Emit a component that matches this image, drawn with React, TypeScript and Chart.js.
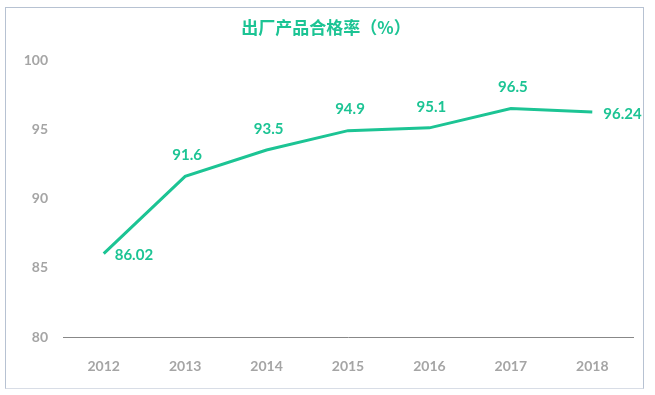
import React, { useEffect, useRef } from "react";
import { Chart, registerables } from "chart.js";

Chart.register(...registerables);

const title = "出厂产品合格率（%）";
const categories = ["2012", "2013", "2014", "2015", "2016", "2017", "2018"];
const values = [86.02, 91.6, 93.5, 94.9, 95.1, 96.5, 96.24];
const valueLabels = ["86.02", "91.6", "93.5", "94.9", "95.1", "96.5", "96.24"];
const labelPlacement = ["right", "top", "top", "top", "top", "top", "right"];

const GREEN = "#1cc494";
const FONT = "Lato, 'Open Sans', sans-serif";

export default function App() {
  const ref = useRef<HTMLCanvasElement | null>(null);

  useEffect(() => {
    if (!ref.current) return;
    const labelsPlugin = {
      id: "valueLabels",
      afterDatasetsDraw(chart: any) {
        const ctx = chart.ctx;
        const meta = chart.getDatasetMeta(0);
        ctx.save();
        ctx.fillStyle = GREEN;
        ctx.font = `bold 15px ${FONT}`;
        ctx.textBaseline = "middle";
        meta.data.forEach((pt: any, i: number) => {
          if (labelPlacement[i] === "right") {
            ctx.textAlign = "left";
            ctx.fillText(valueLabels[i], pt.x + 11, pt.y + 2);
          } else {
            ctx.textAlign = "center";
            ctx.fillText(valueLabels[i], pt.x + 2, pt.y - 21);
          }
        });
        ctx.restore();
      },
    };
    const titlePlugin = {
      id: "customTitle",
      afterDraw(chart: any) {
        const ctx = chart.ctx;
        ctx.save();
        ctx.fillStyle = GREEN;
        ctx.font = `bold 17px 'Noto Sans CJK SC', ${FONT}`;
        ctx.textAlign = "center";
        ctx.textBaseline = "middle";
        ctx.fillText(title, 326, 28);
        ctx.restore();
      },
    };
    const chart = new Chart(ref.current, {
      type: "line",
      data: {
        labels: categories,
        datasets: [
          {
            data: values,
            borderColor: GREEN,
            borderWidth: 3,
            pointRadius: 0,
            tension: 0,
            fill: false,
          },
        ],
      },
      options: {
        animation: false,
        responsive: false,
        maintainAspectRatio: false,
        layout: { padding: { left: 0, right: 22, top: 60, bottom: 0 } },
        plugins: {
          legend: { display: false },
          title: { display: false },
          tooltip: { enabled: false },
        },
        scales: {
          x: {
            offset: true,
            grid: { display: false, drawTicks: false },
            border: { display: true, color: "#888888", width: 1 },
            ticks: {
              color: "#a5a5a5",
              font: { family: FONT, size: 14, weight: "bold" },
              padding: 21,
            },
            afterFit(scale: any) {
              scale.height = 58;
            },
          },
          y: {
            min: 80,
            max: 100,
            grid: { display: false, drawTicks: false },
            border: { display: false },
            ticks: {
              stepSize: 5,
              color: "#a5a5a5",
              font: { family: FONT, size: 14, weight: "bold" },
              padding: 15,
            },
            afterFit(scale: any) {
              scale.width = 63;
            },
          },
        },
      },
      plugins: [labelsPlugin, titlePlugin],
    });
    return () => chart.destroy();
  }, []);

  return (
    <div
      style={{
        position: "absolute",
        left: 0,
        top: 0,
        width: 655,
        height: 395,
        background: "#ffffff",
      }}
    >
      <div
        style={{
          position: "absolute",
          left: 5,
          top: 7,
          width: 639,
          height: 382,
          border: "1px solid #b7c2d2",
          borderBottomColor: "#d8dde6",
          boxSizing: "border-box",
        }}
      />
      <canvas
        ref={ref}
        width={655}
        height={395}
        style={{ position: "absolute", left: 0, top: 0 }}
      />
    </div>
  );
}
